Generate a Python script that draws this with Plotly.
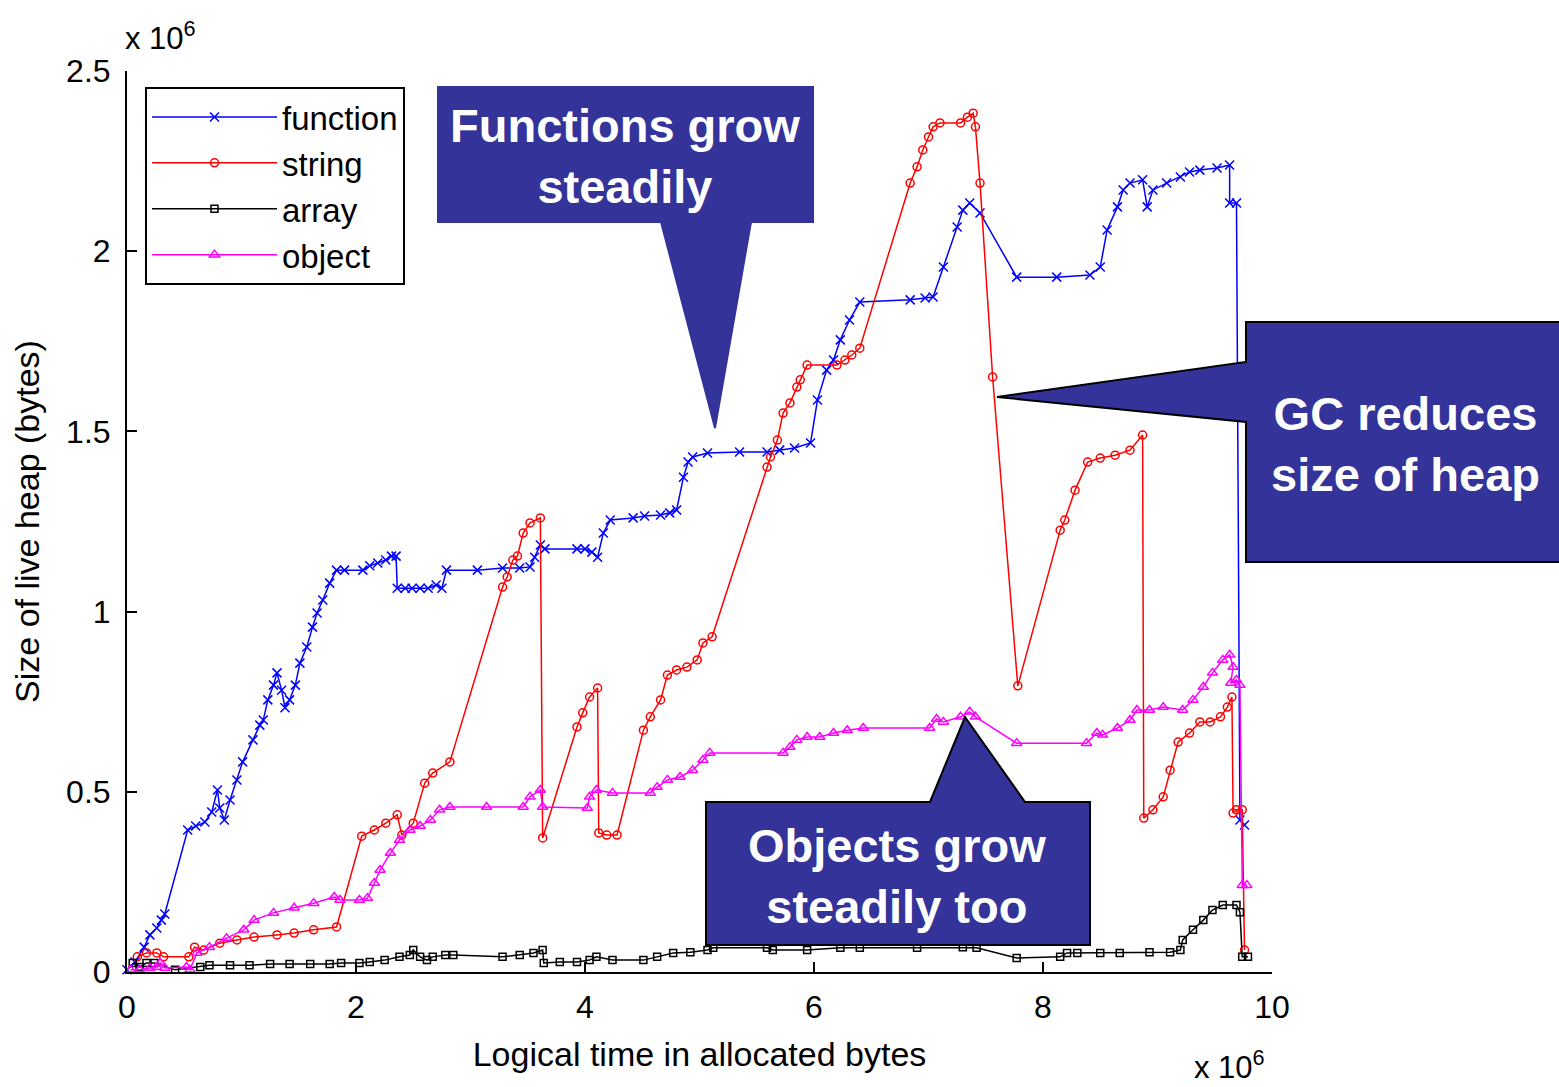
import plotly.graph_objects as go

# Live heap size per object kind (values in units of 1e6 bytes)
function_x = [0.00, 0.07, 0.15, 0.20, 0.26, 0.30, 0.33, 0.53, 0.60, 0.68, 0.74, 0.79, 0.81, 0.85, 0.90,
              0.96, 1.01, 1.10, 1.16, 1.19, 1.23, 1.28, 1.31, 1.35, 1.38, 1.42, 1.47, 1.51, 1.57, 1.62,
              1.66, 1.71, 1.77, 1.83, 1.90, 2.06, 2.12, 2.19, 2.26, 2.31, 2.35, 2.36, 2.43, 2.49, 2.56,
              2.63, 2.70, 2.75, 2.79, 3.06, 3.28, 3.43, 3.52, 3.56, 3.61, 3.65, 3.93, 4.00, 4.06, 4.11,
              4.16, 4.22, 4.42, 4.52, 4.66, 4.74, 4.80, 4.86, 4.90, 4.94, 5.07, 5.35, 5.59, 5.70, 5.83,
              5.97, 6.03, 6.11, 6.17, 6.23, 6.31, 6.40, 6.84, 6.97, 7.04, 7.13, 7.25, 7.30, 7.36, 7.45,
              7.77, 8.12, 8.41, 8.50, 8.56, 8.65, 8.70, 8.76, 8.87, 8.91, 8.96, 9.08, 9.20, 9.28, 9.37,
              9.52, 9.63, 9.63, 9.69, 9.72, 9.76]
function_y = [0.006, 0.028, 0.069, 0.103, 0.122, 0.144, 0.161, 0.394, 0.405, 0.416, 0.444, 0.505, 0.455, 0.422, 0.477,
              0.533, 0.583, 0.644, 0.685, 0.699, 0.755, 0.796, 0.830, 0.782, 0.733, 0.755, 0.796, 0.857, 0.902, 0.957,
              0.996, 1.032, 1.079, 1.115, 1.115, 1.115, 1.127, 1.135, 1.143, 1.154, 1.154, 1.065, 1.065, 1.065, 1.065,
              1.065, 1.074, 1.065, 1.115, 1.115, 1.121, 1.121, 1.124, 1.151, 1.185, 1.174, 1.174, 1.174, 1.165, 1.151,
              1.218, 1.254, 1.260, 1.265, 1.268, 1.274, 1.282, 1.373, 1.415, 1.429, 1.440, 1.443, 1.443, 1.448, 1.454,
              1.468, 1.587, 1.670, 1.698, 1.754, 1.809, 1.859, 1.865, 1.870, 1.873, 1.956, 2.067, 2.114, 2.134, 2.106,
              1.928, 1.928, 1.934, 1.956, 2.059, 2.123, 2.170, 2.189, 2.198, 2.123, 2.170, 2.189, 2.206, 2.220, 2.225,
              2.231, 2.239, 2.134, 2.134, 0.422, 0.408]

string_x = [0.09, 0.17, 0.26, 0.32, 0.54, 0.59, 0.67, 0.81, 0.96, 1.11, 1.31, 1.46, 1.63, 1.83, 2.05,
            2.16, 2.26, 2.36, 2.40, 2.50, 2.60, 2.67, 2.82, 3.28, 3.32, 3.37, 3.41, 3.46, 3.52, 3.61,
            3.63, 3.93, 3.98, 4.04, 4.11, 4.12, 4.19, 4.28, 4.51, 4.57, 4.66, 4.72, 4.80, 4.89, 4.98,
            5.03, 5.11, 5.59, 5.62, 5.68, 5.73, 5.79, 5.85, 5.88, 5.94, 6.20, 6.27, 6.33, 6.40, 6.84,
            6.90, 6.95, 7.00, 7.04, 7.10, 7.28, 7.34, 7.39, 7.41, 7.45, 7.56, 7.78, 8.15, 8.19, 8.28,
            8.39, 8.50, 8.63, 8.76, 8.87, 8.88, 8.96, 9.05, 9.11, 9.18, 9.28, 9.37, 9.46, 9.55, 9.61,
            9.65, 9.66, 9.69, 9.74, 9.76]
string_y = [0.042, 0.053, 0.053, 0.042, 0.042, 0.069, 0.061, 0.080, 0.089, 0.097, 0.103, 0.108, 0.117, 0.125, 0.377,
            0.394, 0.413, 0.436, 0.380, 0.413, 0.524, 0.552, 0.583, 1.068, 1.096, 1.143, 1.154, 1.218, 1.246, 1.260,
            0.372, 0.680, 0.719, 0.763, 0.788, 0.386, 0.380, 0.380, 0.671, 0.708, 0.755, 0.824, 0.838, 0.846, 0.866,
            0.913, 0.930, 1.401, 1.429, 1.476, 1.551, 1.579, 1.623, 1.643, 1.684, 1.684, 1.698, 1.712, 1.731, 2.189,
            2.234, 2.281, 2.317, 2.345, 2.356, 2.356, 2.372, 2.383, 2.345, 2.189, 1.651, 0.794, 1.226, 1.254, 1.337,
            1.415, 1.426, 1.434, 1.448, 1.490, 0.427, 0.450, 0.486, 0.560, 0.638, 0.663, 0.694, 0.694, 0.708, 0.735,
            0.763, 0.441, 0.450, 0.450, 0.061]

array_x = [0.05, 0.11, 0.17, 0.24, 0.42, 0.64, 0.72, 0.90, 1.07, 1.25, 1.42, 1.60, 1.77, 1.87, 2.03,
           2.12, 2.25, 2.38, 2.47, 2.50, 2.56, 2.62, 2.67, 2.78, 2.85, 3.28, 3.43, 3.55, 3.63, 3.64,
           3.78, 3.93, 4.04, 4.10, 4.24, 4.51, 4.63, 4.77, 4.92, 5.07, 5.12, 5.59, 5.64, 5.94, 6.23,
           6.40, 6.90, 7.30, 7.42, 7.77, 8.15, 8.21, 8.30, 8.50, 8.67, 8.93, 9.11, 9.20, 9.22, 9.31,
           9.40, 9.48, 9.57, 9.69, 9.72, 9.74, 9.79]
array_y = [0.025, 0.014, 0.025, 0.025, 0.006, 0.014, 0.019, 0.019, 0.019, 0.022, 0.022, 0.022, 0.022, 0.025, 0.025,
           0.028, 0.033, 0.042, 0.047, 0.061, 0.042, 0.033, 0.042, 0.047, 0.047, 0.042, 0.047, 0.053, 0.061, 0.025,
           0.028, 0.028, 0.033, 0.042, 0.033, 0.033, 0.042, 0.053, 0.055, 0.061, 0.067, 0.067, 0.061, 0.061, 0.067,
           0.067, 0.067, 0.069, 0.067, 0.039, 0.042, 0.053, 0.053, 0.053, 0.053, 0.055, 0.055, 0.061, 0.089, 0.117,
           0.144, 0.172, 0.186, 0.186, 0.166, 0.042, 0.042]

object_x = [0.03, 0.11, 0.20, 0.26, 0.29, 0.33, 0.52, 0.55, 0.61, 0.72, 0.87, 1.02, 1.11, 1.28, 1.46,
            1.63, 1.81, 1.86, 2.03, 2.10, 2.16, 2.21, 2.30, 2.38, 2.47, 2.56, 2.65, 2.73, 2.82, 3.14,
            3.46, 3.52, 3.61, 3.63, 4.02, 4.04, 4.10, 4.24, 4.57, 4.63, 4.72, 4.83, 4.94, 5.03, 5.09,
            5.73, 5.79, 5.85, 5.94, 6.05, 6.17, 6.29, 6.43, 7.01, 7.07, 7.13, 7.28, 7.36, 7.41, 7.77,
            8.38, 8.47, 8.52, 8.65, 8.76, 8.82, 8.93, 9.05, 9.22, 9.31, 9.40, 9.48, 9.57, 9.63, 9.66,
            9.64, 9.69, 9.72, 9.74, 9.78]
object_y = [0.006, 0.006, 0.011, 0.014, 0.025, 0.011, 0.014, 0.006, 0.053, 0.069, 0.094, 0.117, 0.144, 0.164, 0.178,
            0.191, 0.208, 0.200, 0.200, 0.205, 0.247, 0.283, 0.330, 0.366, 0.394, 0.405, 0.422, 0.450, 0.458, 0.458,
            0.458, 0.486, 0.505, 0.458, 0.455, 0.486, 0.505, 0.497, 0.497, 0.513, 0.533, 0.541, 0.560, 0.588, 0.608,
            0.608, 0.624, 0.644, 0.652, 0.652, 0.663, 0.671, 0.677, 0.677, 0.702, 0.694, 0.708, 0.722, 0.708, 0.635,
            0.635, 0.663, 0.658, 0.677, 0.699, 0.727, 0.727, 0.735, 0.727, 0.755, 0.791, 0.830, 0.866, 0.880, 0.846,
            0.802, 0.810, 0.796, 0.241, 0.241]

series_names = ["function", "string", "array", "object"]
x_ticks = [0, 2, 4, 6, 8, 10]
y_ticks = [0, 0.5, 1, 1.5, 2, 2.5]
y_tick_text = ["0", "0.5", "1", "1.5", "2", "2.5"]

FONT = "Liberation Sans, Arial, sans-serif"
W, H = 1559, 1087
L, R, T, B = 127, 1272, 71, 972  # plot area edges in page pixels


def px(x):
    return (x - L) / (R - L)


def py(y):
    return (B - y) / (B - T)


styles = [
    ("#0000ff", "x-thin-open", 9),
    ("#ff0000", "circle-open", 8),
    ("#000000", "square-open", 7),
    ("#ff00ff", "triangle-up-open", 9),
]
data = [(function_x, function_y), (string_x, string_y), (array_x, array_y), (object_x, object_y)]

fig = go.Figure()
for name, (xs, ys), (color, symbol, size) in zip(series_names, data, styles):
    fig.add_trace(go.Scatter(
        x=xs, y=ys, name=name, mode="lines+markers",
        line=dict(color=color, width=1.5),
        marker=dict(symbol=symbol, size=size, color=color, line=dict(color=color, width=1.5)),
        cliponaxis=False,
    ))

# Callout boxes with pointers (page-pixel outlines converted to paper fractions)
callouts = [
    ([(438, 87), (813, 87), (813, 222), (751, 222), (715, 428), (661, 222), (438, 222)],
     "Functions grow<br>steadily", (625, 156), "#333399"),
    ([(1246, 322), (1600, 322), (1600, 562), (1246, 562), (1246, 422), (997, 397), (1246, 362)],
     "GC reduces<br>size of heap", (1405, 444), "#000000"),
    ([(706, 802), (930, 802), (965, 717), (1025, 802), (1090, 802), (1090, 945), (706, 945)],
     "Objects grow<br>steadily too", (897, 876), "#000000"),
]
shapes = []
annotations = []
for pts, text, (cx, cy), edge in callouts:
    path = "M " + " L ".join(f"{px(a):.5f},{py(b):.5f}" for a, b in pts) + " Z"
    shapes.append(dict(type="path", xref="paper", yref="paper", path=path,
                       fillcolor="#333399", line=dict(color=edge, width=2), layer="above"))
    annotations.append(dict(xref="paper", yref="paper", x=px(cx), y=py(cy), text=text,
                            showarrow=False, xanchor="center", yanchor="middle",
                            font=dict(family=FONT, size=47, color="white", weight="bold")))

# Axis exponent labels
annotations.append(dict(xref="paper", yref="paper", x=px(123), y=py(58), text="x 10<sup>6</sup>",
                        showarrow=False, xanchor="left", yanchor="bottom",
                        font=dict(family=FONT, size=31, color="black")))
annotations.append(dict(xref="paper", yref="paper", x=px(1192), y=py(1087), text="x 10<sup>6</sup>",
                        showarrow=False, xanchor="left", yanchor="bottom",
                        font=dict(family=FONT, size=31, color="black")))

axis_common = dict(showgrid=False, zeroline=False, showline=True, linecolor="black", linewidth=2,
                   ticks="inside", ticklen=10, tickwidth=1.5, tickcolor="black", mirror=False,
                   tickfont=dict(family=FONT, size=32, color="black"), automargin=False)

fig.update_layout(
    width=W, height=H,
    margin=dict(l=L, r=W - R, t=T, b=H - B, pad=0),
    paper_bgcolor="white", plot_bgcolor="white",
    font=dict(family=FONT, color="black"),
    xaxis=dict(range=[0, 10], tickvals=x_ticks, ticktext=[str(v) for v in x_ticks],
               ticklabelstandoff=6,
               title=dict(text="Logical time in allocated bytes", standoff=18,
                          font=dict(family=FONT, size=34, color="black")),
               **axis_common),
    yaxis=dict(range=[0, 2.5], tickvals=y_ticks, ticktext=y_tick_text,
               ticklabelstandoff=8,
               title=dict(text="Size of live heap (bytes)", standoff=16,
                          font=dict(family=FONT, size=34, color="black")),
               **axis_common),
    legend=dict(x=px(145), y=py(87), xanchor="left", yanchor="top",
                bgcolor="white", bordercolor="black", borderwidth=2,
                font=dict(family=FONT, size=33, color="black"),
                itemwidth=125, tracegroupgap=0),
    shapes=shapes,
    annotations=annotations,
    showlegend=True,
)

fig.write_html("out.html")
